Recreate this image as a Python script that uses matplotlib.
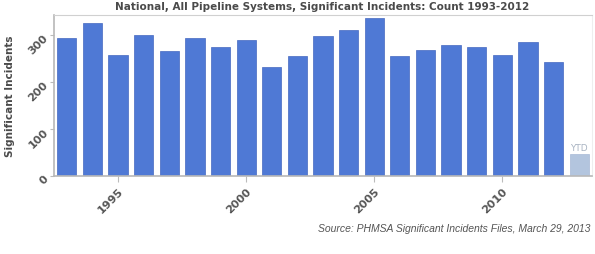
import matplotlib
matplotlib.use("Agg")
import matplotlib.pyplot as plt

years = list(range(1993, 2013))
incidents = [293, 325, 258, 300, 265, 294, 274, 289, 231, 256,
             298, 311, 337, 256, 267, 278, 274, 258, 284, 243]
ytd_year = 2013
ytd_value = 47
xticks = [1995, 2000, 2005, 2010]
yticks = [0, 100, 200, 300]

fig = plt.figure(figsize=(5.95, 2.55), dpi=100)
ax = fig.add_axes([54/595, 1 - 177/255, (592-54)/595, (177-16)/255])

ax.bar(years, incidents, width=0.75, color="#4f79d5", edgecolor="#4568c0", linewidth=0.5, zorder=2)
ax.bar([ytd_year], [ytd_value], width=0.75, color="#b3c5de", edgecolor="#a8bad6", linewidth=0.5, zorder=2)
ax.text(ytd_year, ytd_value + 5, "YTD", ha="center", va="bottom", fontsize=6.5, color="#a9b4c2")

ax.set_xlim(1992.5, 2013.5)
ax.set_ylim(0, 342.5)
ax.set_xticks(xticks)
ax.set_xticklabels([str(t) for t in xticks], rotation=45, ha="right", rotation_mode="anchor",
                   fontsize=8, fontweight="bold", color="#555555")
ax.set_yticks(yticks)
ax.set_yticklabels([str(t) for t in yticks], rotation=45, ha="right", rotation_mode="anchor",
                   fontsize=8, fontweight="bold", color="#555555")
ax.tick_params(axis="x", length=4, color="#bbbbbb", pad=3)
ax.tick_params(axis="y", length=3, color="#bbbbbb", pad=3)

for s in ["left", "bottom"]:
    ax.spines[s].set_color("#b8b8b8")
    ax.spines[s].set_linewidth(1.2)
ax.spines["top"].set_color("#d0d0d0")
ax.spines["top"].set_linewidth(0.8)
ax.spines["right"].set_color("#eeeeee")
ax.spines["right"].set_linewidth(0.8)

ax.set_ylabel("Significant Incidents", fontsize=7.5, fontweight="bold", color="#4a4a4a")
ax.yaxis.set_label_coords(-0.072, 0.5)

fig.text(322/595, 1 - 7/255, "National, All Pipeline Systems, Significant Incidents: Count 1993-2012",
         ha="center", va="center", fontsize=7.5, fontweight="bold", color="#4a4a4a")
fig.text(590/595, 1 - 229/255, "Source: PHMSA Significant Incidents Files, March 29, 2013",
         ha="right", va="center", fontsize=7.5, style="italic", color="#555555",
         family="Liberation Sans")

fig.savefig("out.png", dpi=100)
